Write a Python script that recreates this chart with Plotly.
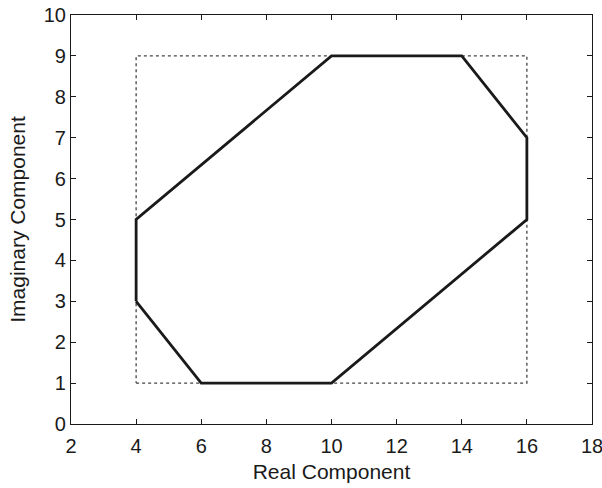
import plotly.graph_objects as go

# Octagon vertices (closed)
poly_re = [4, 4, 10, 14, 16, 16, 10, 6, 4]
poly_im = [3, 5, 9, 9, 7, 5, 1, 1, 3]

# Bounding rectangle (closed)
box_re = [4, 16, 16, 4, 4]
box_im = [1, 1, 9, 9, 1]

x_ticks = [2, 4, 6, 8, 10, 12, 14, 16, 18]
y_ticks = [0, 1, 2, 3, 4, 5, 6, 7, 8, 9, 10]

TICK_FONT = dict(family="Liberation Sans, Arial", size=20, color="#1a1a1a")
TITLE_FONT = dict(family="Liberation Sans, Arial", size=21, color="#1a1a1a")

fig = go.Figure()
fig.add_trace(go.Scatter(
    x=box_re, y=box_im, mode="lines",
    line=dict(color="#444444", width=1.3, dash="dot"),
    showlegend=False, hoverinfo="skip"))
fig.add_trace(go.Scatter(
    x=poly_re, y=poly_im, mode="lines",
    line=dict(color="#1a1a1a", width=2.8),
    showlegend=False))

axis_common = dict(
    showgrid=False, zeroline=False, showline=True, linecolor="#1a1a1a",
    linewidth=1.2, mirror="ticks", ticks="inside", ticklen=5, tickwidth=1,
    tickcolor="#1a1a1a", tickfont=TICK_FONT, automargin=False,
    ticklabeloverflow="allow",
)
fig.update_xaxes(range=[2, 18], tickvals=x_ticks, ticklabelstandoff=4,
                 title=dict(text="Real Component", font=TITLE_FONT, standoff=8),
                 **axis_common)
fig.update_yaxes(range=[0, 10], tickvals=y_ticks,
                 title=dict(text="Imaginary Component", font=TITLE_FONT, standoff=12),
                 **axis_common)
fig.update_layout(
    width=602, height=488,
    margin=dict(l=71, r=10, t=15, b=64),
    plot_bgcolor="white", paper_bgcolor="white",
)
fig.write_html("out.html")
